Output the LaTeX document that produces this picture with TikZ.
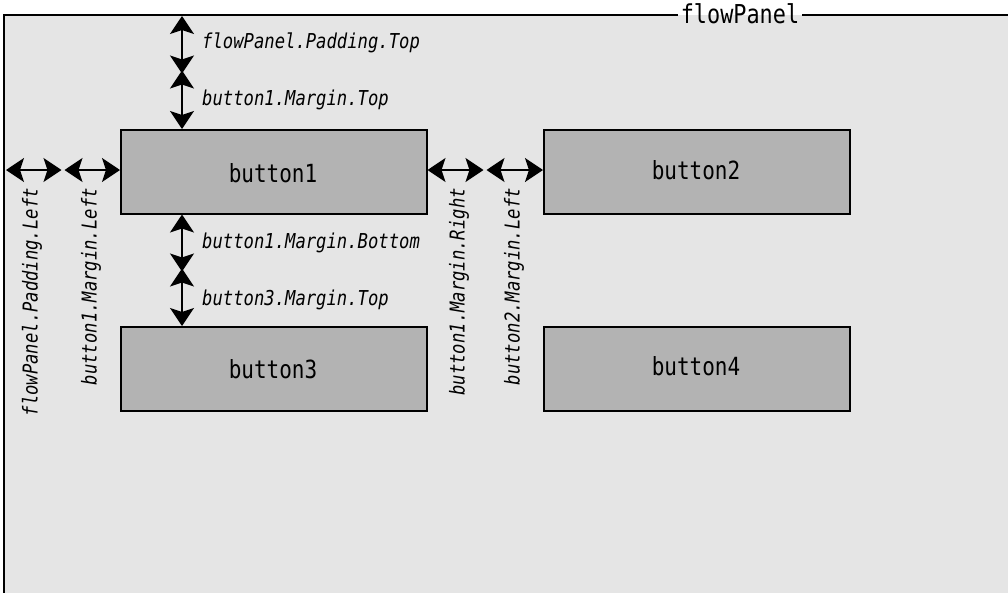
\documentclass[tikz,border=0pt]{standalone}
\usepackage{fontspec}
\setmonofont[FakeStretch=0.84]{DejaVu Sans Mono}
\usetikzlibrary{arrows.meta}
\definecolor{panelgray}{HTML}{E5E5E5}
\definecolor{btngray}{HTML}{B3B3B3}
\tikzset{
  btn/.style={draw=black, line width=1.5pt, fill=btngray, minimum width=306pt, minimum height=84pt, inner sep=0pt},
  btntext/.style={font=\ttfamily\fontsize{25}{26}\selectfont},
  dim/.style={line width=2pt, {Stealth[length=18pt,width=24pt,inset=4pt]}-{Stealth[length=18pt,width=24pt,inset=4pt]}},
  lab/.style={font=\ttfamily\itshape\fontsize{20.5}{22}\selectfont, inner sep=0pt},
}
\begin{document}
\begin{tikzpicture}[x=1pt,y=-1pt]
\useasboundingbox (0,0) rectangle (1008,592);
\fill[white] (0,0) rectangle (1008,592);
\fill[panelgray] (4,15) rectangle (1010,594);
\node[inner sep=3pt, font=\ttfamily\fontsize{26}{26}\selectfont] (title) at (740,14) {flowPanel};
\draw[line width=2pt] (4,594) -- (4,15) -- (title.west |- 4,15);
\draw[line width=2pt] (title.east |- 4,15) -- (1010,15);

\node[btn, anchor=north west] (b1) at (120,129) {};
\node[btn, anchor=north west] (b2) at (543,129) {};
\node[btn, anchor=north west] (b3) at (120,326) {};
\node[btn, anchor=north west] (b4) at (543,326) {};
\node[btntext] (t1) at (273,173) {button1};
\node[btntext] (t2) at (696,170) {button2};
\node[btntext] (t3) at (273,369) {button3};
\node[btntext] (t4) at (696,366) {button4};

\coordinate (pt) at (182,16);
\coordinate (m1) at (182,72);
\coordinate (pl) at (6,170);
\coordinate (m2) at (63,170);
\coordinate (m3) at (485,170);
\coordinate (m4) at (182,270);

\draw[dim] (pt) -- ([yshift=-1.5pt]m1);
\draw[dim] ([yshift=1.5pt]m1) -- (b1.north -| m1);
\draw[dim] (b1.south -| m1) -- ([yshift=-1.5pt]m4);
\draw[dim] ([yshift=1.5pt]m4) -- (b3.north -| m4);
\draw[dim] (pl) -- ([xshift=-1.5pt]m2);
\draw[dim] ([xshift=1.5pt]m2) -- (b1.west |- m2);
\draw[dim] (b1.east |- m3) -- ([xshift=-1.5pt]m3);
\draw[dim] ([xshift=1.5pt]m3) -- (b2.west |- m3);

\node[lab, anchor=west] (l1) at (202,43) {flowPanel.Padding.Top};
\node[lab, anchor=west] (l2) at (202,100) {button1.Margin.Top};
\node[lab, anchor=west] (l3) at (202,243) {button1.Margin.Bottom};
\node[lab, anchor=west] (l4) at (202,300) {button3.Margin.Top};
\node[lab, rotate=90, anchor=east] (l5) at (32,188) {flowPanel.Padding.Left};
\node[lab, rotate=90, anchor=east] (l6) at (91,188) {button1.Margin.Left};
\node[lab, rotate=90, anchor=east] (l7) at (459,188) {button1.Margin.Right};
\node[lab, rotate=90, anchor=east] (l8) at (514,188) {button2.Margin.Left};
\end{tikzpicture}
\end{document}
